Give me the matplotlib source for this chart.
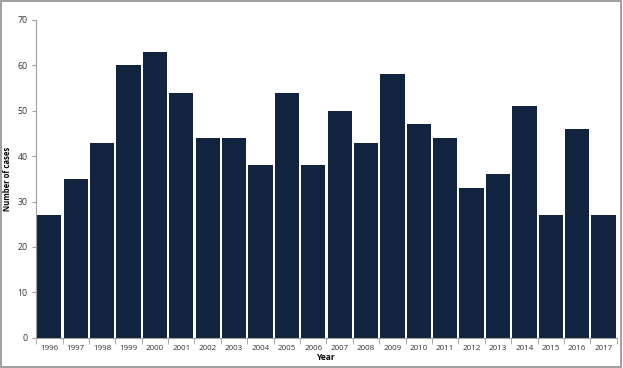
import matplotlib
matplotlib.use("Agg")
import matplotlib.pyplot as plt
from matplotlib.patches import Rectangle
import numpy as np

years = [str(y) for y in range(1996, 2018)]
cases = [27, 35, 43, 60, 63, 54, 44, 44, 38, 54, 38, 50, 43, 58, 47, 44, 33, 36, 51, 27, 46, 27]
yticks = [0, 10, 20, 30, 40, 50, 60, 70]

plt.rcParams['font.family'] = ['Open Sans', 'DejaVu Sans']
fig = plt.figure(figsize=(6.23, 3.68), dpi=100)
ax = fig.add_axes([0.058, 0.082, 0.932, 0.864])

x = np.arange(len(years))
ax.bar(x, cases, width=0.92, color='#11233f', zorder=2)
ax.set_xlim(-0.5, len(years) - 0.5)
ax.set_ylim(0, 70)
ax.set_yticks(yticks)
ax.set_yticklabels([str(v) for v in yticks], fontsize=6.3, color='#333333')
ax.set_xticks(x)
ax.set_xticklabels(years, fontsize=5.8, color='#333333')
ax.set_xticks(np.arange(-0.5, len(years)), minor=True)
ax.tick_params(axis='x', which='major', length=0, pad=5)
ax.tick_params(axis='x', which='minor', length=4, color='#a0a0a0', direction='out')
ax.tick_params(axis='y', length=3, color='#a0a0a0', pad=3)
for s in ['top', 'right']:
    ax.spines[s].set_visible(False)
ax.spines['left'].set_color('#a0a0a0')
ax.spines['bottom'].set_color('#a0a0a0')
ax.set_xlabel('Year', fontsize=6, fontweight='bold', labelpad=1)
ax.set_ylabel('Number of cases', fontsize=5.5, fontweight='bold', labelpad=4)

fig.patches.append(Rectangle((0.002, 0.003), 0.995, 0.994, transform=fig.transFigure,
                             fill=False, edgecolor='#a0a0a0', linewidth=1.4))
fig.savefig('out.png', dpi=100)
